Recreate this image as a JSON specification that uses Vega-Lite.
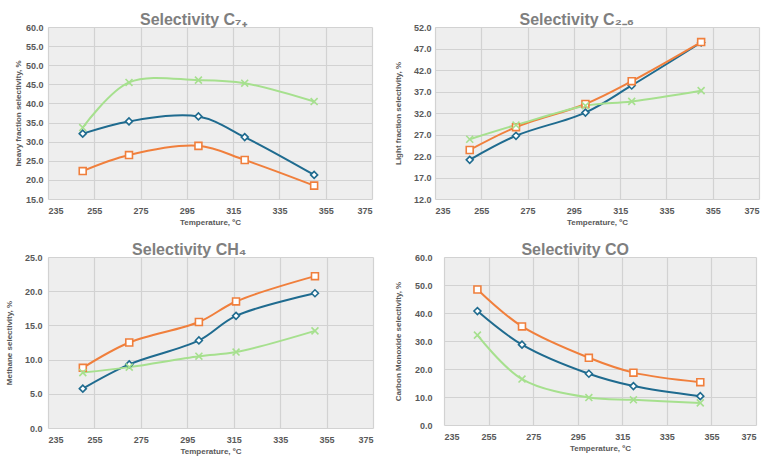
{
  "$schema": "https://vega.github.io/schema/vega-lite/v6.json",
  "background": "white",
  "padding": {"left": 5, "top": 12, "right": 4, "bottom": 2},
  "datasets": {
    "sel": [
      {"panel": "C7+", "series": "A", "T": 250, "value": 32.1},
      {"panel": "C7+", "series": "A", "T": 270, "value": 35.3},
      {"panel": "C7+", "series": "A", "T": 300, "value": 36.6},
      {"panel": "C7+", "series": "A", "T": 320, "value": 31.2},
      {"panel": "C7+", "series": "A", "T": 350, "value": 21.3},
      {"panel": "C7+", "series": "B", "T": 250, "value": 22.3},
      {"panel": "C7+", "series": "B", "T": 270, "value": 26.5},
      {"panel": "C7+", "series": "B", "T": 300, "value": 28.9},
      {"panel": "C7+", "series": "B", "T": 320, "value": 25.2},
      {"panel": "C7+", "series": "B", "T": 350, "value": 18.5},
      {"panel": "C7+", "series": "C", "T": 250, "value": 33.7},
      {"panel": "C7+", "series": "C", "T": 270, "value": 45.5},
      {"panel": "C7+", "series": "C", "T": 300, "value": 46.1},
      {"panel": "C7+", "series": "C", "T": 320, "value": 45.3},
      {"panel": "C7+", "series": "C", "T": 350, "value": 40.5},

      {"panel": "C2-6", "series": "A", "T": 250, "value": 21.1},
      {"panel": "C2-6", "series": "A", "T": 270, "value": 26.7},
      {"panel": "C2-6", "series": "A", "T": 300, "value": 32.1},
      {"panel": "C2-6", "series": "A", "T": 320, "value": 38.4},
      {"panel": "C2-6", "series": "A", "T": 350, "value": 48.4},
      {"panel": "C2-6", "series": "B", "T": 250, "value": 23.4},
      {"panel": "C2-6", "series": "B", "T": 270, "value": 28.7},
      {"panel": "C2-6", "series": "B", "T": 300, "value": 34.1},
      {"panel": "C2-6", "series": "B", "T": 320, "value": 39.4},
      {"panel": "C2-6", "series": "B", "T": 350, "value": 48.5},
      {"panel": "C2-6", "series": "C", "T": 250, "value": 25.9},
      {"panel": "C2-6", "series": "C", "T": 270, "value": 29.2},
      {"panel": "C2-6", "series": "C", "T": 300, "value": 33.7},
      {"panel": "C2-6", "series": "C", "T": 320, "value": 34.7},
      {"panel": "C2-6", "series": "C", "T": 350, "value": 37.2},

      {"panel": "CH4", "series": "A", "T": 250, "value": 5.75},
      {"panel": "CH4", "series": "A", "T": 270, "value": 9.3},
      {"panel": "CH4", "series": "A", "T": 300, "value": 12.8},
      {"panel": "CH4", "series": "A", "T": 316, "value": 16.4},
      {"panel": "CH4", "series": "A", "T": 350, "value": 19.7},
      {"panel": "CH4", "series": "B", "T": 250, "value": 8.8},
      {"panel": "CH4", "series": "B", "T": 270, "value": 12.5},
      {"panel": "CH4", "series": "B", "T": 300, "value": 15.5},
      {"panel": "CH4", "series": "B", "T": 316, "value": 18.5},
      {"panel": "CH4", "series": "B", "T": 350, "value": 22.2},
      {"panel": "CH4", "series": "C", "T": 250, "value": 8.1},
      {"panel": "CH4", "series": "C", "T": 270, "value": 8.9},
      {"panel": "CH4", "series": "C", "T": 300, "value": 10.5},
      {"panel": "CH4", "series": "C", "T": 316, "value": 11.1},
      {"panel": "CH4", "series": "C", "T": 350, "value": 14.2},

      {"panel": "CO", "series": "A", "T": 250, "value": 40.7},
      {"panel": "CO", "series": "A", "T": 270, "value": 28.7},
      {"panel": "CO", "series": "A", "T": 300, "value": 18.3},
      {"panel": "CO", "series": "A", "T": 320, "value": 13.9},
      {"panel": "CO", "series": "A", "T": 350, "value": 10.3},
      {"panel": "CO", "series": "B", "T": 250, "value": 48.4},
      {"panel": "CO", "series": "B", "T": 270, "value": 35.2},
      {"panel": "CO", "series": "B", "T": 300, "value": 24.0},
      {"panel": "CO", "series": "B", "T": 320, "value": 18.7},
      {"panel": "CO", "series": "B", "T": 350, "value": 15.3},
      {"panel": "CO", "series": "C", "T": 250, "value": 32.1},
      {"panel": "CO", "series": "C", "T": 270, "value": 16.4},
      {"panel": "CO", "series": "C", "T": 300, "value": 9.8},
      {"panel": "CO", "series": "C", "T": 320, "value": 9.0},
      {"panel": "CO", "series": "C", "T": 350, "value": 7.9}
    ]
  },
  "data": {"name": "sel"},
  "config": {
    "font": "Liberation Sans",
    "view": {"fill": "#eeeeee", "stroke": null},
    "axis": {
      "domain": false,
      "ticks": false,
      "gridColor": "#d2d2d2",
      "gridWidth": 1.2,
      "labelFont": "Liberation Sans",
      "labelFontWeight": "bold",
      "labelFontSize": 9,
      "labelColor": "#595959",
      "titleFont": "Liberation Sans",
      "titleFontSize": 8,
      "titleFontWeight": "bold",
      "titleColor": "#595959"
    },
    "axisX": {"labelPadding": 7, "titlePadding": 3},
    "title": {"fontSize": 16, "fontWeight": "bold", "color": "#7f7f7f", "offset": -5, "frame": "bounds", "anchor": "middle", "font": "Liberation Sans"}
  },
  "columns": 2,
  "align": "none",
  "bounds": "full",
  "spacing": {"row": 16, "column": 21},
  "concat": [
    {
      "title": "Selectivity C₇₊",
      "width": 324,
      "height": 172,
      "transform": [{"filter": "datum.panel === 'C7+'"}],
      "encoding": {
        "x": {"field": "T", "type": "quantitative",
          "scale": {"domain": [235, 375], "nice": false, "zero": false},
          "axis": {"values": [235, 255, 275, 295, 315, 335, 355, 375], "format": "d", "title": "Temperature, ºC"}},
        "y": {"field": "value", "type": "quantitative",
          "scale": {"domain": [15, 60], "nice": false, "zero": false},
          "axis": {"values": [15, 20, 25, 30, 35, 40, 45, 50, 55, 60], "format": ".1f", "title": "heavy fraction selectivity, %", "labelPadding": 5, "titlePadding": 3}}
      },
      "layer": [
        {"mark": {"type": "line", "interpolate": "catmull-rom", "strokeWidth": 2},
         "encoding": {"color": {"field": "series", "type": "nominal", "legend": null,
           "scale": {"domain": ["C", "A", "B"], "range": ["#a6e08e", "#1f6b8f", "#f07f3c"]}}}},
        {"mark": {"type": "point", "filled": true, "size": 48, "strokeWidth": 1.6, "opacity": 1},
         "encoding": {
           "fill": {"value": "white"},
           "stroke": {"field": "series", "type": "nominal", "legend": null,
             "scale": {"domain": ["C", "A", "B"], "range": ["#a6e08e", "#1f6b8f", "#f07f3c"]}},
           "shape": {"field": "series", "type": "nominal", "legend": null,
             "scale": {"domain": ["C", "A", "B"], "range": ["M-1,-1L1,1M-1,1L1,-1", "diamond", "square"]}}}}
      ]
    },
    {
      "title": "Selectivity C₂₋₆",
      "width": 324,
      "height": 172,
      "transform": [{"filter": "datum.panel === 'C2-6'"}],
      "encoding": {
        "x": {"field": "T", "type": "quantitative",
          "scale": {"domain": [235, 375], "nice": false, "zero": false},
          "axis": {"values": [235, 255, 275, 295, 315, 335, 355, 375], "format": "d", "title": "Temperature, ºC"}},
        "y": {"field": "value", "type": "quantitative",
          "scale": {"domain": [12, 52], "nice": false, "zero": false},
          "axis": {"values": [12, 17, 22, 27, 32, 37, 42, 47, 52], "format": ".1f", "title": "Light fraction selectivity, %", "labelPadding": 4, "titlePadding": 11}}
      },
      "layer": [
        {"mark": {"type": "line", "interpolate": "catmull-rom", "strokeWidth": 2},
         "encoding": {"color": {"field": "series", "type": "nominal", "legend": null,
           "scale": {"domain": ["C", "A", "B"], "range": ["#a6e08e", "#1f6b8f", "#f07f3c"]}}}},
        {"mark": {"type": "point", "filled": true, "size": 48, "strokeWidth": 1.6, "opacity": 1},
         "encoding": {
           "fill": {"value": "white"},
           "stroke": {"field": "series", "type": "nominal", "legend": null,
             "scale": {"domain": ["C", "A", "B"], "range": ["#a6e08e", "#1f6b8f", "#f07f3c"]}},
           "shape": {"field": "series", "type": "nominal", "legend": null,
             "scale": {"domain": ["C", "A", "B"], "range": ["M-1,-1L1,1M-1,1L1,-1", "diamond", "square"]}}}}
      ]
    },
    {
      "title": "Selectivity CH₄",
      "width": 325,
      "height": 171,
      "transform": [{"filter": "datum.panel === 'CH4'"}],
      "encoding": {
        "x": {"field": "T", "type": "quantitative",
          "scale": {"domain": [235, 375], "nice": false, "zero": false},
          "axis": {"values": [235, 255, 275, 295, 315, 335, 355, 375], "format": "d", "title": "Temperature, ºC"}},
        "y": {"field": "value", "type": "quantitative",
          "scale": {"domain": [0, 25], "nice": false},
          "axis": {"values": [0, 5, 10, 15, 20, 25], "format": ".1f", "title": "Methane selectivity, %", "labelPadding": 6, "titlePadding": 11}}
      },
      "layer": [
        {"mark": {"type": "line", "interpolate": "catmull-rom", "strokeWidth": 2},
         "encoding": {"color": {"field": "series", "type": "nominal", "legend": null,
           "scale": {"domain": ["C", "A", "B"], "range": ["#a6e08e", "#1f6b8f", "#f07f3c"]}}}},
        {"mark": {"type": "point", "filled": true, "size": 48, "strokeWidth": 1.6, "opacity": 1},
         "encoding": {
           "fill": {"value": "white"},
           "stroke": {"field": "series", "type": "nominal", "legend": null,
             "scale": {"domain": ["C", "A", "B"], "range": ["#a6e08e", "#1f6b8f", "#f07f3c"]}},
           "shape": {"field": "series", "type": "nominal", "legend": null,
             "scale": {"domain": ["C", "A", "B"], "range": ["M-1,-1L1,1M-1,1L1,-1", "diamond", "square"]}}}}
      ]
    },
    {
      "title": "Selectivity CO",
      "width": 312,
      "height": 168,
      "transform": [{"filter": "datum.panel === 'CO'"}],
      "encoding": {
        "x": {"field": "T", "type": "quantitative",
          "scale": {"domain": [235, 375], "nice": false, "zero": false},
          "axis": {"values": [235, 255, 275, 295, 315, 335, 355, 375], "format": "d", "title": "Temperature, ºC"}},
        "y": {"field": "value", "type": "quantitative",
          "scale": {"domain": [0, 60], "nice": false},
          "axis": {"values": [0, 10, 20, 30, 40, 50, 60], "format": ".1f", "title": "Carbon Monoxide selectivity, %", "labelPadding": 12, "titlePadding": 12}}
      },
      "layer": [
        {"mark": {"type": "line", "interpolate": "catmull-rom", "strokeWidth": 2},
         "encoding": {"color": {"field": "series", "type": "nominal", "legend": null,
           "scale": {"domain": ["C", "A", "B"], "range": ["#a6e08e", "#1f6b8f", "#f07f3c"]}}}},
        {"mark": {"type": "point", "filled": true, "size": 48, "strokeWidth": 1.6, "opacity": 1},
         "encoding": {
           "fill": {"value": "white"},
           "stroke": {"field": "series", "type": "nominal", "legend": null,
             "scale": {"domain": ["C", "A", "B"], "range": ["#a6e08e", "#1f6b8f", "#f07f3c"]}},
           "shape": {"field": "series", "type": "nominal", "legend": null,
             "scale": {"domain": ["C", "A", "B"], "range": ["M-1,-1L1,1M-1,1L1,-1", "diamond", "square"]}}}}
      ]
    }
  ]
}
